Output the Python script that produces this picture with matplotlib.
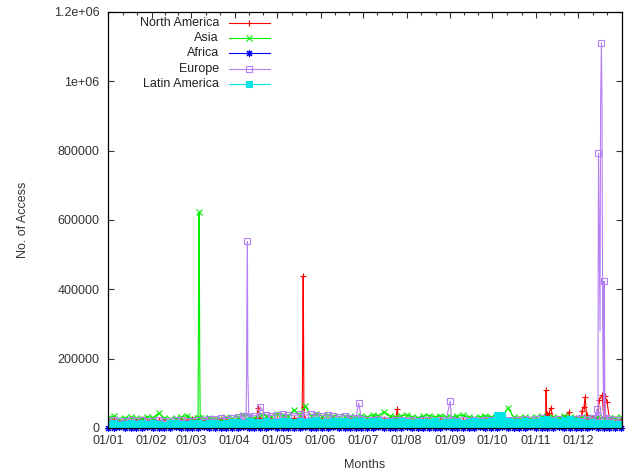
import numpy as np
import matplotlib
matplotlib.use("Agg")
import matplotlib.pyplot as plt
from matplotlib.ticker import FixedLocator, FixedFormatter

plt.rcParams['font.family'] = ['Liberation Sans', 'DejaVu Sans']

# baseline samples every 4 days (values in thousands of accesses)
base_days = np.arange(0, 365, 4)

na_base = [22, 24, 21, 23, 20, 22, 25, 21, 23, 22, 24, 21, 20, 23, 22, 26, 24, 22, 21, 23, 25, 22, 24,
           23, 25, 27, 24, 26, 28, 25, 27, 26, 24, 28, 25, 27, 24, 26, 25, 23, 26, 24, 22, 25, 23,
           24, 22, 25, 23, 26, 24, 22, 25, 23, 21, 24, 22, 23, 25, 22, 24, 21, 23, 22, 24, 23, 21, 24,
           23, 22, 24, 21, 23, 25, 22, 24, 26, 23, 27, 25, 24, 28, 26, 30, 28, 27, 30, 29, 32, 28, 25, 24]
asia_base = [30, 34, 27, 29, 31, 28, 26, 33, 30, 43, 29, 27, 28, 31, 36, 27, 29, 30, 28, 26, 27, 31, 28,
             33, 37, 35, 30, 38, 36, 34, 40, 37, 35, 52, 38, 63, 36, 41, 34, 37, 35, 32, 36, 34, 30,
             35, 32, 38, 36, 46, 34, 31, 35, 38, 33, 30, 34, 36, 32, 35, 33, 31, 34, 37, 32, 30, 33, 35,
             33, 30, 35, 58, 32, 29, 31, 28, 33, 35, 30, 32, 29, 34, 31, 28, 30, 33, 29, 31, 27, 30, 28, 32]
africa_base = [1, 0, 2, 1, 1, 0, 1, 2, 1, 0, 1, 1, 2, 1, 0, 1, 1, 2, 1, 0, 1, 1, 0,
               1, 2, 1, 1, 0, 1, 2, 1, 1, 0, 1, 1, 2, 1, 0, 1, 1, 2, 1, 0, 1, 1,
               0, 1, 1, 2, 1, 0, 1, 1, 2, 1, 0, 1, 1, 0, 1, 2, 1, 1, 0, 1, 1, 2, 1,
               1, 0, 3, 1, 1, 0, 1, 2, 1, 1, 0, 1, 2, 1, 1, 0, 1, 1, 2, 1, 0, 1, 1, 0]
europe_base = [20, 22, 19, 21, 23, 20, 22, 21, 19, 22, 20, 21, 23, 22, 20, 21, 22, 24, 26, 25, 28, 27, 30,
               32, 34, 33, 36, 35, 38, 36, 37, 40, 38, 36, 39, 37, 40, 38, 35, 37, 34, 33, 36, 30, 28,
               26, 24, 22, 25, 23, 21, 24, 22, 20, 23, 21, 22, 24, 21, 23, 20, 22, 21, 23, 20, 22, 21, 23,
               22, 20, 21, 24, 23, 22, 25, 24, 26, 28, 23, 24, 25, 22, 27, 25, 28, 26, 30, 35, 27, 25, 24, 22]
latam_base = [11, 13, 10, 12, 14, 11, 13, 12, 15, 11, 10, 13, 14, 12, 11, 13, 15, 12, 14, 13, 11, 15, 16,
              17, 15, 19, 18, 16, 20, 18, 17, 19, 21, 18, 20, 17, 19, 22, 18, 17, 20, 19, 21, 18, 19,
              20, 18, 21, 19, 17, 18, 16, 19, 17, 15, 18, 16, 17, 19, 15, 17, 16, 18, 15, 17, 19, 16, 17,
              19, 38, 37, 21, 17, 16, 19, 18, 17, 23, 25, 20, 18, 24, 26, 19, 17, 15, 16, 14, 13, 15, 12, 11]

# short bursts (day of year, thousands)
na_peak_days = [105.8, 106.2, 137.8, 138.1, 138.4, 138.6, 138.8, 139.1, 139.3, 205.5, 206.0,
                310.8, 311.1, 311.5, 313.2, 314.6, 322.4, 327.4, 336.6, 338.0, 338.8, 340.2,
                348.7, 350.9, 353.0, 354.4]
na_peak_vals = [30, 58, 30, 130, 360, 438, 332, 60, 25, 55, 25,
                30, 110, 40, 43, 58, 32, 46, 49, 61, 89, 37,
                80, 95, 92, 75]
asia_peak_days = [63.8, 64.1, 64.4, 64.6, 64.9, 65.2, 65.5]
asia_peak_vals = [30, 160, 470, 622, 470, 160, 28]
europe_peak_days = [98.1, 98.4, 98.7, 99.0, 99.3, 108.0, 178.0, 243.0,
                    346.5, 347.3, 348.0, 348.3, 348.6, 349.4, 349.8, 350.4, 350.8, 351.3, 352.3, 352.8, 353.4]
europe_peak_vals = [35, 156, 410, 538, 156, 62, 72, 78,
                    30, 55, 240, 793, 660, 280, 935, 1111, 930, 280, 424, 100, 30]

colors = ['#ff0000', '#00ee00', '#0000ff', '#b480f4', '#00e6e6']
names = ['North America', 'Asia', 'Africa', 'Europe', 'Latin America']
markers = ['+', 'x', (8, 2, 0), 's', 's']


def merge(base, pdays, pvals):
    d = np.concatenate([base_days, pdays])
    v = np.concatenate([base, pvals]) * 1000.0
    idx = np.argsort(d, kind='stable')
    return d[idx], v[idx]


def marked(v):
    # points on the steep flanks of a burst get no symbol, like the original
    keep = []
    for k in range(len(v)):
        lo = v[k - 1] if k > 0 else 0
        hi = v[k + 1] if k < len(v) - 1 else 0
        if v[k] < 100000 or (v[k] >= lo and v[k] >= hi):
            keep.append(k)
    return keep


series = [merge(na_base, na_peak_days, na_peak_vals),
          merge(asia_base, asia_peak_days, asia_peak_vals),
          merge(africa_base, [], []),
          merge(europe_base, europe_peak_days, europe_peak_vals),
          merge(latam_base, [], [])]

fig = plt.figure(figsize=(6.29, 4.72), dpi=100)
ax = fig.add_axes([108 / 629, 1 - 428 / 472, 514 / 629, 416 / 472])

for i, (d, v) in enumerate(series):
    mfc = 'none' if i == 3 else colors[i]
    clip = i != 2
    if i == 4:
        ax.fill_between(d, 0, v, color=colors[i], lw=0, zorder=2 + i)
    ax.plot(d, v, color=colors[i], lw=0.8, marker=markers[i], ms=5, markevery=marked(v),
            mew=0.8, mfc=mfc, mec=colors[i], zorder=2 + i, clip_on=clip)

ax.set_xlim(0, 365)
ax.set_ylim(0, 1.2e6)

month_starts = [0, 31, 59, 90, 120, 151, 181, 212, 243, 273, 304, 334]
month_labels = ['01/%02d' % (m + 1) for m in range(12)]
ax.xaxis.set_major_locator(FixedLocator(month_starts))
ax.xaxis.set_major_formatter(FixedFormatter(month_labels))
minor = []
for a, b in zip(month_starts, month_starts[1:] + [365]):
    minor += [a + (b - a) / 3, a + 2 * (b - a) / 3]
ax.xaxis.set_minor_locator(FixedLocator(minor))

yticks = [0, 200000, 400000, 600000, 800000, 1000000, 1200000]
ylabels = ['0', '200000', '400000', '600000', '800000', '1e+06', '1.2e+06']
ax.yaxis.set_major_locator(FixedLocator(yticks))
ax.yaxis.set_major_formatter(FixedFormatter(ylabels))

ax.tick_params(which='both', direction='in', top=True, right=True, labelsize=9, colors='#333333',
               labelcolor='#333333')
ax.tick_params(which='major', length=4.5, width=0.8)
ax.tick_params(which='minor', length=2.5, width=0.8)
ax.tick_params(axis='y', pad=6)
ax.tick_params(axis='x', pad=5)
for s in ax.spines.values():
    s.set_linewidth(0.9)
    s.set_zorder(10)

ax.set_xlabel('Months', fontsize=9, color='#333333', labelpad=9)
ax.set_ylabel('No. of Access', fontsize=9, color='#333333', labelpad=18)

# gnuplot style key, text right aligned in front of the sample
rows_y = [0.974, 0.9375, 0.901, 0.863, 0.827]
for i, name in enumerate(names):
    y = rows_y[i]
    ax.text(0.216, y, name, transform=ax.transAxes, ha='right', va='center', fontsize=9, color='#222222')
    ax.plot([0.235, 0.315], [y, y], transform=ax.transAxes, color=colors[i], lw=0.8, zorder=11)
    ax.plot([0.275], [y], transform=ax.transAxes, color=colors[i], marker=markers[i], ms=5, mew=0.8,
            mfc='none' if i == 3 else colors[i], mec=colors[i], zorder=11)

fig.savefig('out.png', dpi=100)
